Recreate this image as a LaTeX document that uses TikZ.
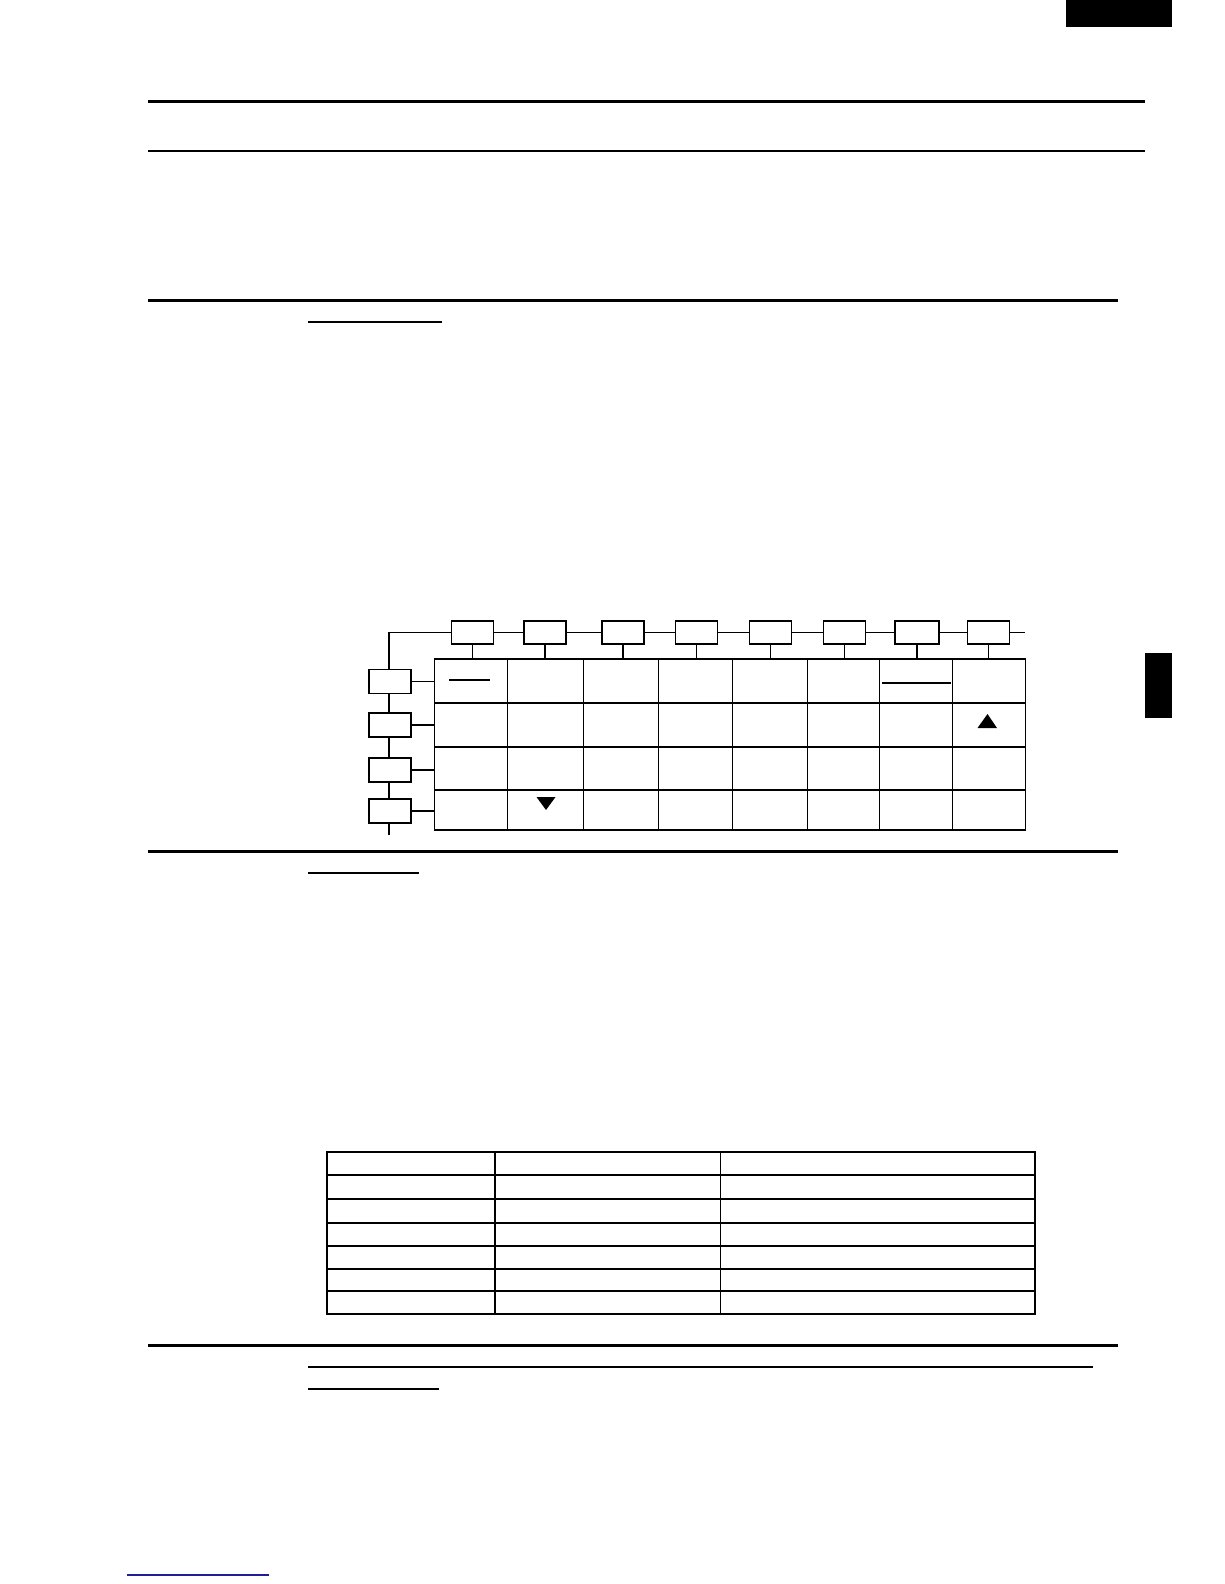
\documentclass[tikz,border=0pt]{standalone}
\usetikzlibrary{calc}
\definecolor{linkblue}{RGB}{30,30,150}
\begin{document}
\begin{tikzpicture}[x=1pt,y=-1pt,
  heavyrule/.style={line width=3pt},
  lightrule/.style={line width=1.3pt},
  underl/.style={line width=1.1pt},
  keybox/.style={draw,line width=1.1pt,inner sep=0pt,minimum width=42pt,minimum height=23pt},
  cellbox/.style={draw,line width=1.1pt,inner sep=0pt},
  wire/.style={line width=1.1pt},
  tabcell/.style={draw,line width=1.1pt,inner sep=0pt}]
\useasboundingbox (0,0) rectangle (1224,1584);
\fill[white] (0,0) rectangle (1224,1584);
% black tabs
\fill (1066,0) rectangle (1172,27);
\fill (1145,653) rectangle (1172,718);
% rules
\draw[heavyrule] (148,101.5) -- (1145,101.5);
\draw[lightrule] (148,151) -- (1145,151);
\draw[heavyrule] (148,300.5) -- (1118,300.5);
\draw[underl] (308,322) -- (442,322);
\draw[heavyrule] (148,851) -- (1118,851);
\draw[underl] (308,873) -- (419,873);
\draw[heavyrule] (148,1345) -- (1118,1345);
\draw[underl] (308,1367) -- (1093,1367);
\draw[underl] (308,1389) -- (439,1389);
\draw[underl,linkblue] (127,1575) -- (269,1575);
% grid cells
\def\xs{{434.6,507.4,583.3,658.3,732.5,807.5,879.5,952.3,1025.2}}
\def\ys{{659,703,747,790,830}}
\foreach \i in {0,...,7}{
  \foreach \j in {0,...,3}{
    \pgfmathsetmacro{\xa}{\xs[\i]}
    \pgfmathsetmacro{\xb}{\xs[\i+1]}
    \pgfmathsetmacro{\ya}{\ys[\j]}
    \pgfmathsetmacro{\yb}{\ys[\j+1]}
    \node[cellbox,minimum width={(\xb-\xa)*1pt},minimum height={(\yb-\ya)*1pt}]
      (c-\j-\i) at ({(\xa+\xb)/2},{(\ya+\yb)/2}) {};
  }
}
% top key boxes
\coordinate (tl) at (389,632.5);
\coordinate (tr) at (1025,632.5);
\coordinate (bl) at (389,835);
\node[keybox] (t1) at (472.5,632.5) {};
\node[keybox] (t2) at (545,632.5) {};
\node[keybox] (t3) at (623,632.5) {};
\node[keybox] (t4) at (696.5,632.5) {};
\node[keybox] (t5) at (770.5,632.5) {};
\node[keybox] (t6) at (844.5,632.5) {};
\node[keybox,minimum width=44pt] (t7) at (917,632.5) {};
\node[keybox] (t8) at (988.5,632.5) {};
% left key boxes
\node[keybox,minimum height=23.5pt] (l1) at (390,681.5) {};
\node[keybox,minimum height=24pt] (l2) at (390,725) {};
\node[keybox,minimum height=24pt] (l3) at (390,770) {};
\node[keybox,minimum height=24pt] (l4) at (390,811) {};
% bus lines
\draw[wire] (l1.north -| tl) -- (tl) -- (t1.west);
\draw[wire] (t1.east) -- (t2.west);
\draw[wire] (t2.east) -- (t3.west);
\draw[wire] (t3.east) -- (t4.west);
\draw[wire] (t4.east) -- (t5.west);
\draw[wire] (t5.east) -- (t6.west);
\draw[wire] (t6.east) -- (t7.west);
\draw[wire] (t7.east) -- (t8.west);
\draw[wire] (t8.east) -- (tr);
\draw[wire] (l1.south -| tl) -- (l2.north -| tl);
\draw[wire] (l2.south -| tl) -- (l3.north -| tl);
\draw[wire] (l3.south -| tl) -- (l4.north -| tl);
\draw[wire] (l4.south -| tl) -- (bl);
% stubs
\foreach \k [evaluate=\k as \c using int(\k-1)] in {1,...,8}{
  \draw[wire] (t\k.south) -- (t\k.south |- c-0-\c.north);
}
\foreach \r [evaluate=\r as \q using int(\r-1)] in {1,...,4}{
  \draw[wire] (l\r.east) -- (l\r.east -| c-\q-0.west);
}
% cell marks
\draw[wire] (449,680) -- (490,680);
\draw[wire] (882,683) -- (951,683);
\fill (977.5,728) -- (997,728) -- (987.5,714) -- cycle;
\fill (536.5,797) -- (555.5,797) -- (546,810) -- cycle;
% table
\def\tx{{327,495,720.5,1035}}
\def\ty{{1152,1175,1199,1223,1246,1269,1291,1314}}
\foreach \i in {0,1,2}{
  \foreach \j in {0,...,6}{
    \pgfmathsetmacro{\xa}{\tx[\i]}
    \pgfmathsetmacro{\xb}{\tx[\i+1]}
    \pgfmathsetmacro{\ya}{\ty[\j]}
    \pgfmathsetmacro{\yb}{\ty[\j+1]}
    \node[tabcell,minimum width={(\xb-\xa)*1pt},minimum height={(\yb-\ya)*1pt}]
      (tb-\j-\i) at ({(\xa+\xb)/2},{(\ya+\yb)/2}) {};
  }
}
\end{tikzpicture}
\end{document}
